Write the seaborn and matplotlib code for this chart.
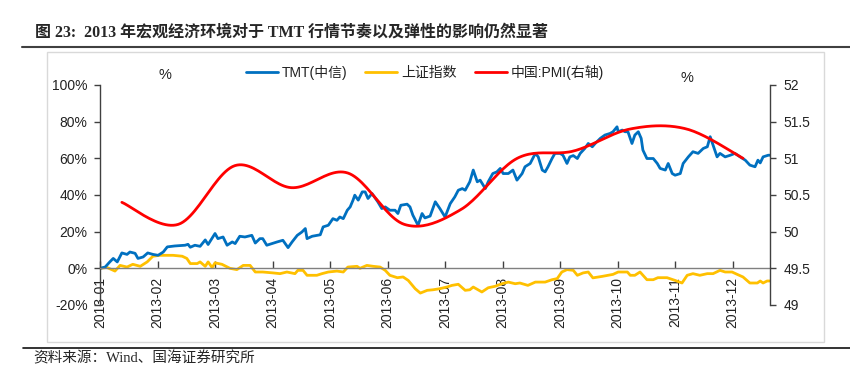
import numpy as np
import pandas as pd
import matplotlib
matplotlib.use("Agg")
import matplotlib.pyplot as plt
from matplotlib.lines import Line2D
from matplotlib.patches import Rectangle
import seaborn as sns

# x = position in months (0 = 2013-01)
tmt_t = [0.00, 0.09, 0.17, 0.23, 0.30, 0.38, 0.47, 0.52, 0.61, 0.66, 0.75, 0.83, 0.92, 1.01, 1.10,
         1.17, 1.30, 1.48, 1.53, 1.57, 1.65, 1.74, 1.83, 1.88, 2.00, 2.05, 2.14, 2.21, 2.30, 2.35,
         2.43, 2.52, 2.64, 2.70, 2.78, 2.83, 2.90, 2.99, 3.08, 3.18, 3.27, 3.34, 3.43, 3.51, 3.57,
         3.60, 3.69, 3.83, 3.88, 3.97, 4.05, 4.12, 4.17, 4.23, 4.30, 4.35, 4.40, 4.43, 4.49, 4.56,
         4.61, 4.66, 4.73, 4.78, 4.83, 4.90, 4.96, 5.04, 5.13, 5.18, 5.23, 5.34, 5.39, 5.44, 5.53,
         5.60, 5.65, 5.74, 5.83, 5.91, 6.00, 6.09, 6.17, 6.23, 6.30, 6.35, 6.43, 6.49, 6.56, 6.61,
         6.70, 6.75, 6.83, 6.90, 6.96, 7.01, 7.10, 7.18, 7.25, 7.34, 7.39, 7.48, 7.57, 7.62, 7.69,
         7.74, 7.79, 7.86, 7.91, 8.00, 8.05, 8.12, 8.17, 8.23, 8.30, 8.35, 8.43, 8.49, 8.56, 8.61,
         8.70, 8.78, 8.87, 8.92, 8.99, 9.01, 9.08, 9.13, 9.18, 9.25, 9.30, 9.36, 9.41, 9.44, 9.51,
         9.57, 9.62, 9.69, 9.74, 9.83, 9.88, 9.95, 10.00, 10.09, 10.14, 10.23, 10.31, 10.40, 10.49,
         10.56, 10.61, 10.66, 10.73, 10.78, 10.87, 10.96, 11.04, 11.13, 11.22, 11.30, 11.39, 11.44,
         11.48, 11.53, 11.62, 11.65]
tmt_v = [0.0, 0.7, 3.5, 5.4, 3.5, 8.4, 7.6, 8.9, 8.2, 5.4, 6.2, 8.4, 7.6, 7.1, 8.9,
         11.7, 12.2, 12.6, 13.1, 11.5, 12.6, 12.0, 15.5, 13.0, 19.0, 16.2, 17.1, 12.6, 14.4, 13.5,
         17.5, 17.1, 18.0, 13.8, 16.2, 16.2, 12.6, 13.5, 14.4, 15.3, 11.3, 14.4, 18.0, 19.8, 21.7,
         16.2, 17.5, 18.3, 22.6, 23.5, 27.1, 26.2, 28.0, 27.1, 31.7, 33.5, 37.2, 39.9, 37.2, 41.7,
         41.7, 38.1, 40.8, 38.6, 36.3, 32.6, 33.5, 31.7, 31.7, 29.9, 34.4, 35.0, 33.5, 29.0, 23.5,
         29.9, 27.5, 28.5, 36.3, 32.6, 28.0, 35.3, 39.0, 42.6, 43.5, 42.6, 47.2, 53.6, 47.2, 48.1,
         43.5, 47.2, 51.7, 52.6, 54.5, 51.7, 51.7, 53.6, 48.1, 51.7, 55.4, 57.2, 62.7, 60.8, 53.6,
         52.6, 55.4, 59.9, 62.7, 62.7, 61.7, 57.2, 60.8, 61.5, 59.9, 62.7, 65.4, 68.1, 66.3, 68.1,
         70.9, 72.7, 73.6, 74.5, 77.2, 74.5, 75.4, 74.5, 74.5, 68.1, 72.7, 74.5, 70.9, 64.5, 59.9,
         59.9, 59.9, 57.2, 54.5, 53.6, 57.2, 51.7, 50.8, 51.7, 57.2, 60.8, 63.6, 62.7, 65.4,
         66.3, 71.8, 67.2, 60.8, 62.7, 60.8, 61.7, 62.7, 60.8, 59.0, 56.3, 55.4, 59.0,
         57.5, 60.8, 61.7, 61.7]

sh_t = [0.00, 0.12, 0.26, 0.35, 0.47, 0.57, 0.70, 0.82, 0.92, 1.04, 1.27, 1.43, 1.51, 1.57, 1.69,
        1.74, 1.83, 1.88, 1.95, 2.00, 2.12, 2.26, 2.38, 2.49, 2.61, 2.70, 2.83, 3.01, 3.13, 3.25,
        3.39, 3.44, 3.53, 3.60, 3.77, 3.86, 3.97, 4.12, 4.23, 4.31, 4.47, 4.52, 4.64, 4.75, 4.87,
        4.96, 5.04, 5.17, 5.27, 5.36, 5.48, 5.57, 5.69, 5.79, 5.91, 6.03, 6.12, 6.23, 6.35, 6.43,
        6.49, 6.64, 6.75, 6.87, 6.99, 7.10, 7.22, 7.30, 7.44, 7.57, 7.74, 7.86, 7.95, 8.03, 8.12,
        8.23, 8.30, 8.40, 8.49, 8.57, 8.73, 8.92, 9.01, 9.17, 9.22, 9.30, 9.39, 9.51, 9.62, 9.70,
        9.86, 10.00, 10.12, 10.21, 10.31, 10.43, 10.56, 10.66, 10.78, 10.87, 10.99, 11.08, 11.18,
        11.30, 11.43, 11.48, 11.53, 11.60, 11.65]
sh_v = [0.0, 0.5, -1.5, 1.6, 0.7, 2.2, 1.1, 3.5, 6.6, 7.1, 7.1, 6.6, 5.4, 2.6, 2.6,
        3.5, 1.1, 3.5, 0.4, 3.0, 2.2, 0.0, -0.7, 1.6, 1.6, -2.0, -2.0, -2.5, -2.9, -2.0,
        -2.9, -1.1, -1.1, -3.8, -3.8, -2.9, -2.0, -1.5, -2.0, 0.7, 1.1, 0.0, 1.6, 1.1, 0.7,
        -1.1, -3.8, -5.1, -4.7, -6.6, -11.1, -13.5, -12.0, -11.7, -11.1, -10.2, -9.3, -8.7, -12.0, -11.7,
        -10.2, -12.9, -10.6, -9.8, -8.4, -7.5, -8.4, -8.0, -9.3, -7.5, -7.5, -6.2, -5.6, -2.0, -0.7,
        -1.1, -3.8, -2.5, -2.0, -5.2, -4.4, -3.3, -2.0, -2.0, -3.8, -3.8, -2.0, -6.2, -6.2, -5.1,
        -5.1, -6.6, -8.0, -3.8, -2.9, -3.8, -2.9, -2.9, -1.1, -2.0, -2.0, -3.3, -4.7,
        -8.0, -8.0, -6.9, -8.0, -6.9, -6.9]

pmi = [50.4, 50.1, 50.9, 50.6, 50.8, 50.1, 50.3, 51.0, 51.1, 51.4, 51.4, 51.0]
pmi_t = [0.38 + 0.982 * i for i in range(12)]

months = ["2013-%02d" % m for m in range(1, 13)]
left_ticks = [-20, 0, 20, 40, 60, 80, 100]
right_ticks = [49, 49.5, 50, 50.5, 51, 51.5, 52]

BLUE, YELLOW, RED = "#0070C0", "#FFC000", "#FF0000"


def smooth_line(xs, ys, n=25):
    # Excel style smoothed line (Bezier through the monthly points)
    P = np.column_stack([xs, ys])
    P = np.vstack([P[0], P, P[-1]])
    segs = []
    s = np.linspace(0, 1, n)[:, None]
    for i in range(1, len(P) - 2):
        p0, p1, p2, p3 = P[i - 1], P[i], P[i + 1], P[i + 2]
        c1 = p1 + (p2 - p0) / 6
        c2 = p2 - (p3 - p1) / 6
        segs.append((1 - s) ** 3 * p1 + 3 * (1 - s) ** 2 * s * c1 + 3 * (1 - s) * s ** 2 * c2 + s ** 3 * p2)
    return np.vstack(segs)


sns.set_theme(style="white")
plt.rcParams["font.family"] = ["Liberation Sans", "Noto Sans CJK SC", "DejaVu Sans"]
plt.rcParams["axes.unicode_minus"] = False

W, H = 850, 373
fig = plt.figure(figsize=(8.5, 3.73), dpi=100)
ax = fig.add_axes([100 / W, 1 - 305 / H, 670 / W, 220 / H])
ax2 = ax.twinx()

df_tmt = pd.DataFrame({"t": tmt_t, "v": tmt_v})
df_sh = pd.DataFrame({"t": sh_t, "v": sh_v})
curve = smooth_line(pmi_t, pmi)
df_pmi = pd.DataFrame({"t": curve[:, 0], "v": curve[:, 1]})

sns.lineplot(data=df_sh, x="t", y="v", ax=ax, color=YELLOW, lw=2, estimator=None, sort=False)
sns.lineplot(data=df_tmt, x="t", y="v", ax=ax, color=BLUE, lw=2, estimator=None, sort=False)
sns.lineplot(data=df_pmi, x="t", y="v", ax=ax2, color=RED, lw=2, estimator=None, sort=False)

ax.set_xlim(0, 11.65)
ax.set_ylim(-20, 100)
ax2.set_ylim(49, 52)
for a in (ax, ax2):
    a.set_xlabel("")
    a.set_ylabel("")
    a.grid(False)
    a.set_facecolor("none")

ax.set_yticks(left_ticks)
ax.set_yticklabels(["%d%%" % v for v in left_ticks])
ax2.set_yticks(right_ticks)
ax2.set_yticklabels(["%g" % v for v in right_ticks])
ax.set_xticks(range(12))
ax.set_xticklabels(months)

ax.spines["top"].set_visible(False)
ax2.spines["top"].set_visible(False)
ax.spines["right"].set_visible(False)
ax2.spines["left"].set_visible(False)
ax2.spines["bottom"].set_visible(False)
ax.spines["bottom"].set_position(("data", 0))
ax.spines["bottom"].set_color("#808080")
ax.spines["left"].set_color("#404040")
ax2.spines["right"].set_color("#404040")
for sp in ("left", "bottom"):
    ax.spines[sp].set_linewidth(1)
ax2.spines["right"].set_linewidth(1)

ax.tick_params(axis="y", left=True, direction="out", length=4, width=1, color="#404040",
               labelsize=10, pad=5, labelcolor="#222222")
ax.tick_params(axis="x", bottom=True, direction="in", length=5, width=1, color="#404040",
               labelsize=10, pad=6, labelcolor="#222222", labelrotation=90)
ax2.tick_params(axis="y", right=True, direction="out", length=4, width=1, color="#404040",
                labelsize=10, pad=6, labelcolor="#222222")
ax2.tick_params(axis="x", bottom=False, top=False, labelbottom=False, labeltop=False)

# axis unit labels
fig.text(165 / W, 1 - 75 / H, "%", fontsize=10.5, ha="center", va="center", color="#222222")
fig.text(687 / W, 1 - 78 / H, "%", fontsize=10.5, ha="center", va="center", color="#222222")

handles = [Line2D([], [], color=BLUE, lw=2),
           Line2D([], [], color=YELLOW, lw=2),
           Line2D([], [], color=RED, lw=2)]
fig.legend(handles, ["TMT(中信)", "上证指数", "中国:PMI(右轴)"], loc="center",
           bbox_to_anchor=(425 / W, 1 - 72 / H), ncol=3, frameon=False, fontsize=10,
           handlelength=2.3, handletextpad=0.3, columnspacing=1.3, labelcolor="#222222")

# outer frame, title, rules and source
fig.add_artist(Rectangle((47 / W, 1 - 342 / H), 777 / W, 290 / H, transform=fig.transFigure,
                         fill=False, edgecolor="#d9d9d9", lw=1))
fig.add_artist(Line2D([22 / W, 1], [1 - 47 / H] * 2, color="#404040", lw=1.5))
fig.add_artist(Line2D([23 / W, 1], [1 - 348 / H] * 2, color="#111111", lw=1.2))
fig.text(35 / W, 1 - 33 / H, "图 23:  2013 年宏观经济环境对于 TMT 行情节奏以及弹性的影响仍然显著",
         fontsize=11.5, fontweight="bold", va="center", ha="left",
         family=["Liberation Serif", "Noto Sans CJK SC"])
fig.text(33 / W, 1 - 358 / H, "资料来源：Wind、国海证券研究所", fontsize=10.5, va="center",
         ha="left", family=["Liberation Serif", "Noto Sans CJK SC"])

fig.savefig("out.png", dpi=100)
